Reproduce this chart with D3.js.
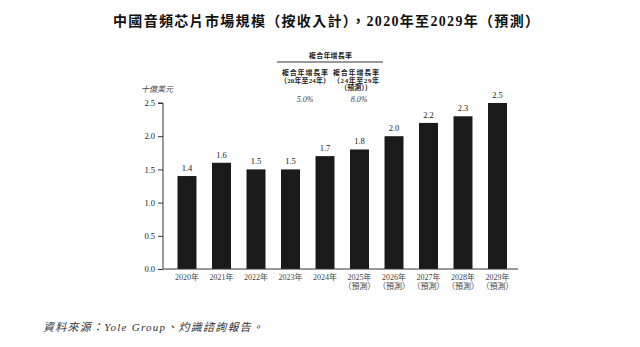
<!DOCTYPE html>
<html><head><meta charset="utf-8">
<script src="https://cdn.jsdelivr.net/npm/d3@7"></script>
<style>
html,body{margin:0;padding:0;background:#fff;}
svg{display:block;}
text{font-family:"Liberation Serif","Noto Sans CJK TC",serif;fill:#222;}
</style></head>
<body>
<script>
const years = ["2020年","2021年","2022年","2023年","2024年","2025年","2026年","2027年","2028年","2029年"];
const forecast = [false,false,false,false,false,true,true,true,true,true];
const values = [1.4,1.6,1.5,1.5,1.7,1.8,2.0,2.2,2.3,2.5];
const yTicks = [0.0,0.5,1.0,1.5,2.0,2.5];
const titleText = "中國音頻芯片市場規模（按收入計），2020年至2029年（預測）";
const unitLabel = "十億美元";
const cagrHeader = "複合年增長率";
const cagrCols = [["複合年增長率","（20年至24年）"],["複合年增長率","（24年至29年","（預測））"]];
const cagrValues = ["5.0%","8.0%"];
const forecastNote = "（預測）";
const sourceText = "資料來源：Yole Group、灼識諮詢報告。";

const W = 640, H = 347;
const svg = d3.select("body").append("svg").attr("width", W).attr("height", H);

const x = d3.scaleBand().domain(years).range([169.75, 514.75]).paddingInner(0.45).paddingOuter(0.225);
const y = d3.scaleLinear().domain([0, 2.5]).range([269, 103]);

// title
svg.append("text").attr("x", 113).attr("y", 26)
  .attr("textLength", 426).attr("lengthAdjust", "spacing")
  .style("font-size", "14px").style("font-weight", "bold").style("fill", "#111")
  .text(titleText);

// bars
svg.selectAll("rect.bar").data(values).enter().append("rect")
  .attr("class", "bar")
  .attr("x", (d, i) => x(years[i]))
  .attr("width", x.bandwidth())
  .attr("y", d => y(d))
  .attr("height", d => y(0) - y(d))
  .attr("fill", "#1a1a1a");

// value labels
svg.selectAll("text.val").data(values).enter().append("text")
  .attr("class", "val")
  .attr("x", (d, i) => x(years[i]) + x.bandwidth() / 2)
  .attr("y", d => y(d) - 5)
  .attr("text-anchor", "middle")
  .style("font-size", "8.5px")
  .text(d => d.toFixed(1));

// y axis
const yAxis = d3.axisLeft(y).tickValues(yTicks).tickFormat(d3.format(".1f")).tickSize(5).tickPadding(3);
const gy = svg.append("g").attr("transform", "translate(163,0)").call(yAxis);
gy.select(".domain").attr("stroke", "#333").attr("d", "M-5,103H0V269");
gy.selectAll(".tick line").attr("stroke", "#333");
gy.selectAll(".tick text").style("font-size", "8.5px").style("font-family", "Liberation Serif").attr("fill", "#333");

// x axis
const xAxis = d3.axisBottom(x).tickSize(0).tickPadding(0).tickFormat("");
const gx = svg.append("g").attr("transform", "translate(0,269)").call(xAxis);
gx.select(".domain").attr("stroke", "#333").attr("d", "M163,0H518");

// x labels
const xl = svg.selectAll("g.xl").data(years).enter().append("g").attr("class", "xl")
  .attr("transform", d => `translate(${x(d) + x.bandwidth() / 2},0)`);
xl.append("text").attr("y", 280).attr("text-anchor", "middle").style("font-size", "8px").style("fill", "#444").text(d => d);
xl.filter((d, i) => forecast[i]).append("text").attr("y", 289).attr("text-anchor", "middle").style("font-size", "8px").style("fill", "#444").text(forecastNote);

// unit label
svg.append("text").attr("x", 141).attr("y", 92).style("font-size", "8px").style("font-style", "italic").style("fill", "#444").text(unitLabel);

// CAGR table
svg.append("text").attr("x", 330.5).attr("y", 58).attr("text-anchor", "middle")
  .attr("textLength", 43).attr("lengthAdjust", "spacing")
  .style("font-size", "7px").style("font-weight", "bold").text(cagrHeader);
svg.append("line").attr("x1", 277).attr("x2", 383).attr("y1", 62).attr("y2", 62).attr("stroke", "#333").attr("stroke-width", 1);
const colX = [305, 356];
const colLens = [[46, 50], [46, 46, null]];
cagrCols.forEach((lines, c) => {
  lines.forEach((t, j) => {
    const tx = svg.append("text").attr("x", colX[c]).attr("y", 75 + j * 7.5).attr("text-anchor", "middle")
      .style("font-size", "7px").style("font-weight", "bold").text(t);
    if (colLens[c][j]) tx.attr("textLength", colLens[c][j]).attr("lengthAdjust", "spacing");
  });
});
cagrValues.forEach((v, c) => {
  svg.append("text").attr("x", colX[c] + (c ? 3 : 0)).attr("y", 102).attr("text-anchor", "middle")
    .style("font-size", "8px").style("font-style", "italic").style("fill", "#444").text(v);
});

// source
svg.append("text").attr("x", 43).attr("y", 331).attr("textLength", 220).attr("lengthAdjust", "spacing")
  .style("font-size", "11px").style("font-style", "italic").style("fill", "#333").text(sourceText);
</script>
</body></html>
